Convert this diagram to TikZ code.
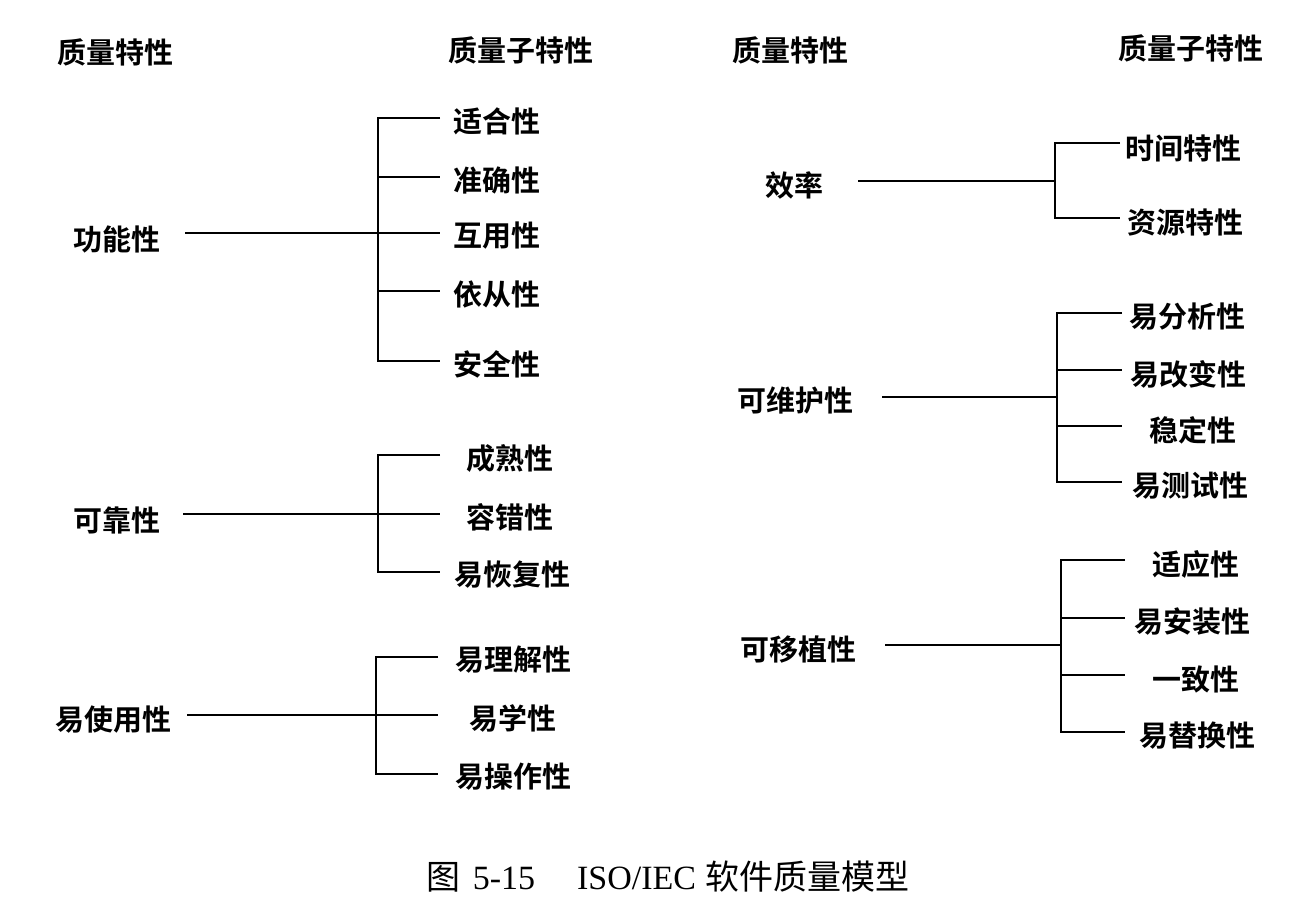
\documentclass[tikz,border=0pt]{standalone}
\usepackage{fontspec}
\setmainfont{Liberation Serif}
\newfontfamily\hei{Noto Sans CJK SC}[BoldFont={Noto Sans CJK SC Bold}]

\begin{document}
\begin{tikzpicture}[x=1pt,y=-1pt,line width=2.8pt,
    lbl/.style={font=\hei\bfseries\fontsize{29}{34}\selectfont,inner sep=0pt},
    captxt/.style={font=\fontsize{34}{40}\selectfont,inner sep=0pt}]
  \useasboundingbox (0,0) rectangle (1299,916);
  % headers
  \node[lbl] (hl1) at (115,52) {质量特性};
  \node[lbl] (hl2) at (521,50) {质量子特性};
  \node[lbl] (hr1) at (790,50) {质量特性};
  \node[lbl] (hr2) at (1191,48) {质量子特性};

  % left column
  \node[lbl] (gn) at (117,239) {功能性};
  \coordinate (gns) at (185,233);
  \coordinate (gnj) at (378,233);
  \foreach \i/\x/\y/\t in {1/497/118/适合性,2/497/177/准确性,3/497/233/互用性,4/497/291/依从性,5/497/361/安全性}{
    \node[lbl] (gn\i) at (\x,\y+3) {\t};
    \coordinate (gn\i e) at (440,\y);
    \draw (gnj |- gn\i e) -- (gn\i e);
  }
  \draw (gn1e) -- (gnj |- gn1e) -- (gnj |- gn5e) -- (gn5e);
  \draw (gns) -- (gnj);

  \node[lbl] (kk) at (117,520) {可靠性};
  \coordinate (kks) at (183,514);
  \coordinate (kkj) at (378,514);
  \foreach \i/\x/\y/\t in {1/510/455/成熟性,2/510/514/容错性,3/512/572/易恢复性}{
    \node[lbl] (kk\i) at (\x,\y+3) {\t};
    \coordinate (kk\i e) at (440,\y);
    \draw (kkj |- kk\i e) -- (kk\i e);
  }
  \draw (kk1e) -- (kkj |- kk1e) -- (kkj |- kk3e) -- (kk3e);
  \draw (kks) -- (kkj);

  \node[lbl] (ys) at (113,720) {易使用性};
  \coordinate (yss) at (187,715);
  \coordinate (ysj) at (376,715);
  \foreach \i/\x/\y/\t in {1/513/657/易理解性,2/513/715/易学性,3/513/774/易操作性}{
    \node[lbl] (ys\i) at (\x,\y+3) {\t};
    \coordinate (ys\i e) at (438,\y);
    \draw (ysj |- ys\i e) -- (ys\i e);
  }
  \draw (ys1e) -- (ysj |- ys1e) -- (ysj |- ys3e) -- (ys3e);
  \draw (yss) -- (ysj);

  % right column
  \node[lbl] (xl) at (794,185) {效率};
  \coordinate (xls) at (858,181);
  \coordinate (xlj) at (1055,181);
  \foreach \i/\x/\y/\t in {1/1183/143/时间特性,2/1185/218/资源特性}{
    \node[lbl] (xl\i) at (\x,\y+5) {\t};
    \coordinate (xl\i e) at (1120,\y);
  }
  \draw (xl1e) -- (xlj |- xl1e) -- (xlj |- xl2e) -- (xl2e);
  \draw (xls) -- (xlj);

  \node[lbl] (wh) at (795,400) {可维护性};
  \coordinate (whs) at (882,397);
  \coordinate (whj) at (1057,397);
  \foreach \i/\x/\y/\t in {1/1187/313/易分析性,2/1188/370/易改变性,3/1193/426/稳定性,4/1190/482/易测试性}{
    \node[lbl] (wh\i) at (\x,\y+4) {\t};
    \coordinate (wh\i e) at (1122,\y);
    \draw (whj |- wh\i e) -- (wh\i e);
  }
  \draw (wh1e) -- (whj |- wh1e) -- (whj |- wh4e) -- (wh4e);
  \draw (whs) -- (whj);

  \node[lbl] (yz) at (798,650) {可移植性};
  \coordinate (yzs) at (885,645);
  \coordinate (yzj) at (1061,645);
  \foreach \i/\x/\y/\t in {1/1196/560/适应性,2/1192/618/易安装性,3/1196/675/一致性,4/1197/732/易替换性}{
    \node[lbl] (yz\i) at (\x,\y+4) {\t};
    \coordinate (yz\i e) at (1125,\y);
    \draw (yzj |- yz\i e) -- (yz\i e);
  }
  \draw (yz1e) -- (yzj |- yz1e) -- (yzj |- yz4e) -- (yz4e);
  \draw (yzs) -- (yzj);

  % caption
  \node[captxt] (fig) at (668,877) {{\hei 图}\hspace{12pt}5-15\hspace{42pt}ISO/IEC\hspace{9pt}{\hei 软件质量模型}};
\end{tikzpicture}
\end{document}
